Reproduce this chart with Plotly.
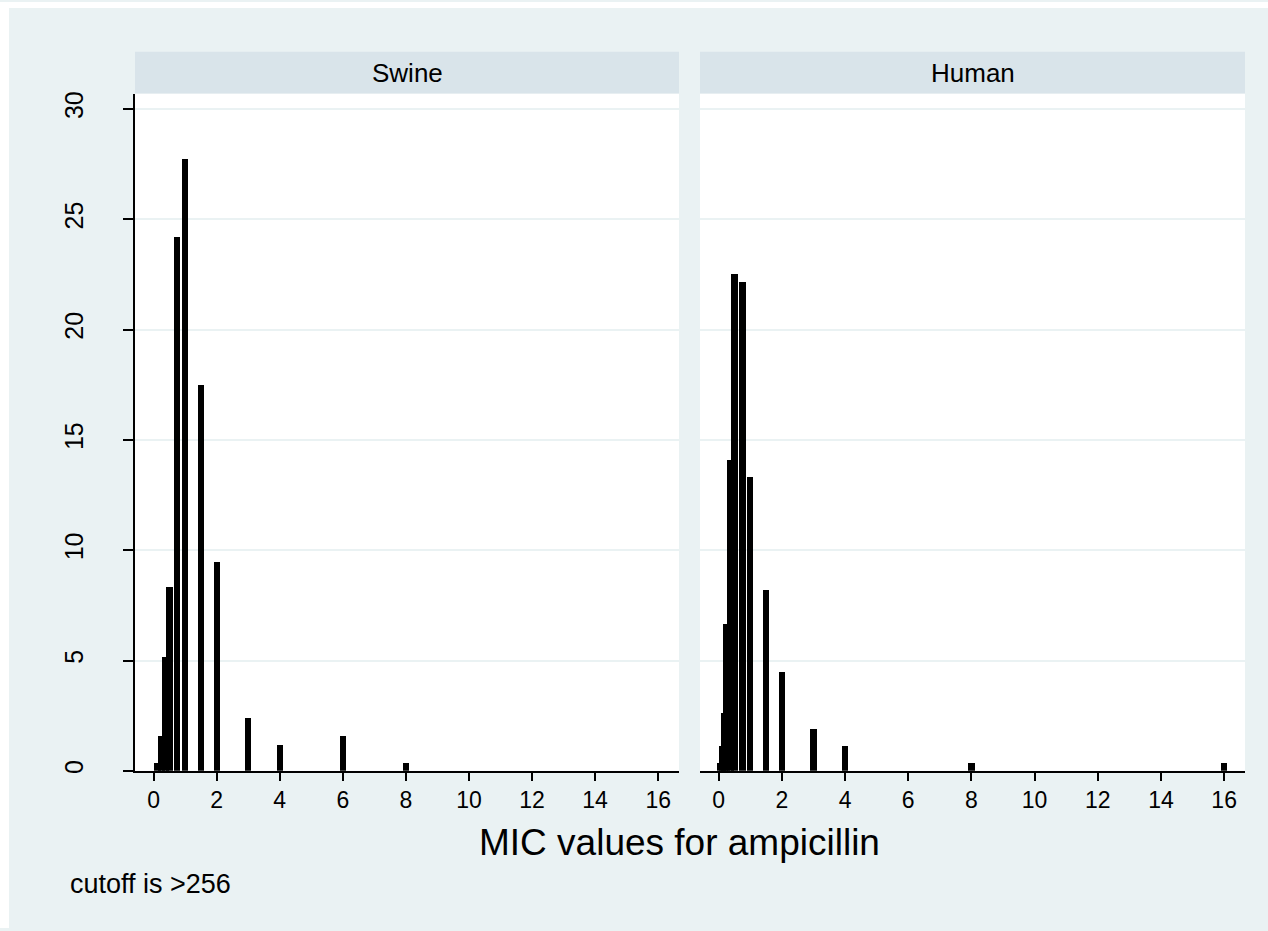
import plotly.graph_objects as go

# ---- data (percent of isolates at each MIC value) ----
swine_mic = [0.125, 0.25, 0.38, 0.5, 0.75, 1, 1.5, 2, 3, 4, 6, 8]
swine_pct = [0.4, 1.6, 5.2, 8.35, 24.2, 27.75, 17.5, 9.5, 2.4, 1.2, 1.6, 0.4]
human_mic = [0.047, 0.125, 0.19, 0.25, 0.38, 0.5, 0.75, 1, 1.5, 2, 3, 4, 8, 16]
human_pct = [0.4, 1.15, 2.65, 6.7, 14.1, 22.55, 22.2, 13.35, 8.2, 4.5, 1.9, 1.15, 0.4, 0.4]
panels = ["Swine", "Human"]
x_ticks = list(range(0, 17, 2))
y_ticks = list(range(0, 31, 5))
x_title = "MIC values for ampicillin"
note = "cutoff is >256"

W, H = 1268, 931
BG = "#eaf2f3"
STRIP = "#d9e4ea"
FONT = "Liberation Sans, Arial, sans-serif"


def fx(px):
    return px / W


def fy(py):
    return 1 - py / H


fig = go.Figure()
fig.add_trace(go.Bar(x=swine_mic, y=swine_pct, width=0.2, xaxis="x", yaxis="y",
                     marker=dict(color="black", line=dict(width=0)), showlegend=False))
fig.add_trace(go.Bar(x=human_mic, y=human_pct, width=0.2, xaxis="x2", yaxis="y2",
                     marker=dict(color="black", line=dict(width=0)), showlegend=False))

xcommon = dict(range=[-0.59, 16.66], showline=True, linecolor="black", linewidth=1.5,
               ticks="outside", ticklen=8, tickwidth=1.5, tickcolor="black",
               tickvals=x_ticks, tickfont=dict(family=FONT, size=23, color="black"),
               showgrid=False, zeroline=False, fixedrange=True)
ydom = [fy(773), fy(92)]

fig.update_layout(
    width=W, height=H, autosize=False,
    margin=dict(l=0, r=0, t=0, b=0),
    paper_bgcolor=BG, plot_bgcolor="white",
    barmode="overlay", bargap=0,
    xaxis=dict(domain=[fx(135), fx(679)], anchor="y", **xcommon),
    xaxis2=dict(domain=[fx(700), fx(1245)], anchor="y2", **xcommon),
    yaxis=dict(domain=ydom, anchor="x", range=[0, 30.7], showline=True, linecolor="black",
               linewidth=1.5, ticks="outside", ticklen=10, tickwidth=1.5, tickcolor="black",
               tickvals=y_ticks, tickangle=-90, ticklabelstandoff=30,
               tickfont=dict(family=FONT, size=25, color="black"),
               showgrid=True, gridcolor=BG, gridwidth=2, zeroline=False, fixedrange=True),
    yaxis2=dict(domain=ydom, anchor="x2", matches="y", range=[0, 30.7], showline=False,
                ticks="", showticklabels=False, tickvals=y_ticks,
                showgrid=True, gridcolor=BG, gridwidth=2, zeroline=False, fixedrange=True),
)

shapes = []
annotations = []
strip_x = [(135, 679), (700, 1245)]
for name, (x0, x1) in zip(panels, strip_x):
    shapes.append(dict(type="rect", xref="paper", yref="paper", x0=fx(x0), x1=fx(x1),
                       y0=fy(92), y1=fy(50), fillcolor=STRIP, line=dict(width=0), layer="above"))
    annotations.append(dict(text=name, xref="paper", yref="paper", x=fx((x0 + x1) / 2), y=fy(71),
                            xanchor="center", yanchor="middle", showarrow=False,
                            font=dict(family=FONT, size=26, color="black")))
# white page margin at top and left
shapes.append(dict(type="rect", xref="paper", yref="paper", x0=0, x1=1, y0=fy(6), y1=1,
                   fillcolor="white", line=dict(width=0), layer="above"))
shapes.append(dict(type="rect", xref="paper", yref="paper", x0=0, x1=fx(9), y0=0, y1=1,
                   fillcolor="white", line=dict(width=0), layer="above"))

annotations.append(dict(text=x_title, xref="paper", yref="paper", x=fx(679), y=fy(845),
                        xanchor="center", yanchor="middle", showarrow=False,
                        font=dict(family=FONT, size=37, color="black")))
annotations.append(dict(text=note, xref="paper", yref="paper", x=fx(68), y=fy(887),
                        xanchor="left", yanchor="middle", showarrow=False,
                        font=dict(family=FONT, size=27, color="black")))

fig.update_layout(shapes=shapes, annotations=annotations)
fig.write_html("out.html")
